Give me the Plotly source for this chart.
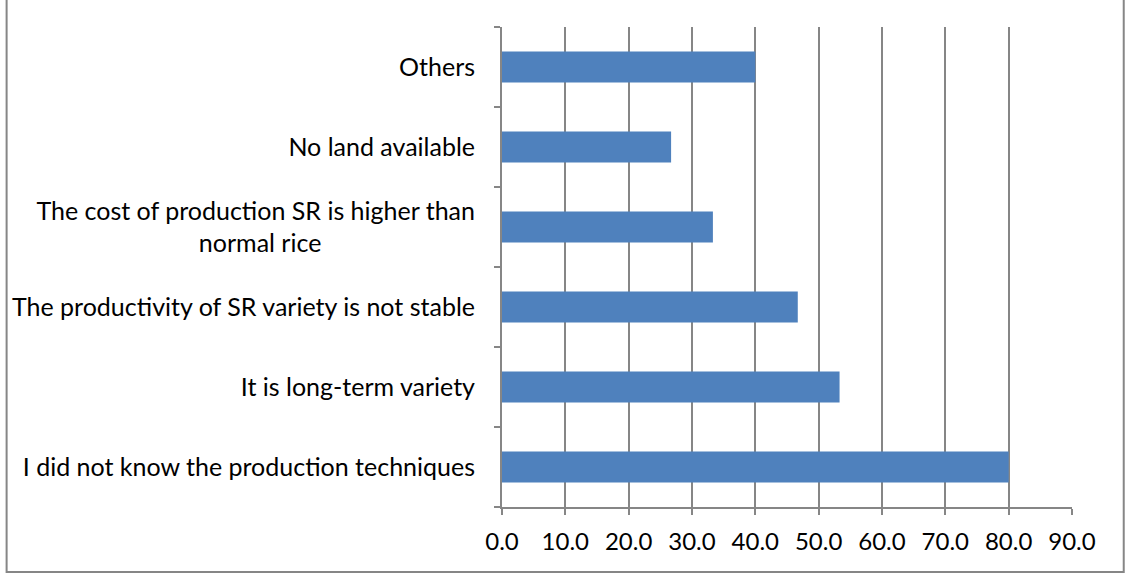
import plotly.graph_objects as go

categories = [
    "I did not know the production techniques",
    "It is long-term variety",
    "The productivity of SR variety is not stable",
    "The cost of production SR is higher than<br>normal rice" + "&nbsp;" * 24,
    "No land available",
    "Others",
]
values = [80.0, 53.3, 46.7, 33.3, 26.7, 40.0]

W, H = 1126, 574
L, R, T, B = 499, 1072, 27, 507
grid = "#868686"
font = "Lato"

fig = go.Figure(go.Bar(
    x=values, y=categories, orientation="h",
    marker=dict(color="#4F81BD", line=dict(width=0)),
    width=0.39,
))

fig.update_layout(
    width=W, height=H,
    margin=dict(l=L, r=W - R, t=T, b=H - B, pad=0),
    paper_bgcolor="white", plot_bgcolor="white",
    font=dict(family=font, size=25, color="#000000"),
    showlegend=False,
    xaxis=dict(
        range=[0, 90], dtick=10, tick0=0, tickformat=".1f",
        showgrid=True, gridcolor=grid, gridwidth=1.5,
        ticks="outside", ticklen=6, tickcolor=grid, tickwidth=1.5,
        showline=True, linecolor=grid, linewidth=2,
        zeroline=False, fixedrange=True,
        ticklabelstandoff=6,
        tickfont=dict(size=24),
    ),
    yaxis=dict(
        type="category", tickson="boundaries",
        showgrid=False, ticks="outside", ticklen=6, tickcolor=grid, tickwidth=1.5,
        showline=True, linecolor=grid, linewidth=2,
        ticklabelstandoff=20,
        tickfont=dict(size=25),
        fixedrange=True,
    ),
)

pw, ph = R - L, B - T
def px_to_paper_x(px):
    return (px - L) / pw
def px_to_paper_y(py):
    return (B - py) / ph

fig.add_shape(type="rect", xref="paper", yref="paper",
              x0=px_to_paper_x(1), x1=px_to_paper_x(1124),
              y0=px_to_paper_y(572), y1=px_to_paper_y(-10),
              line=dict(color=grid, width=2), fillcolor="rgba(0,0,0,0)", layer="below")

fig.write_html("out.html", config={"displayModeBar": False},
               post_script="document.body.style.margin='0px';document.body.style.overflow='hidden';")
